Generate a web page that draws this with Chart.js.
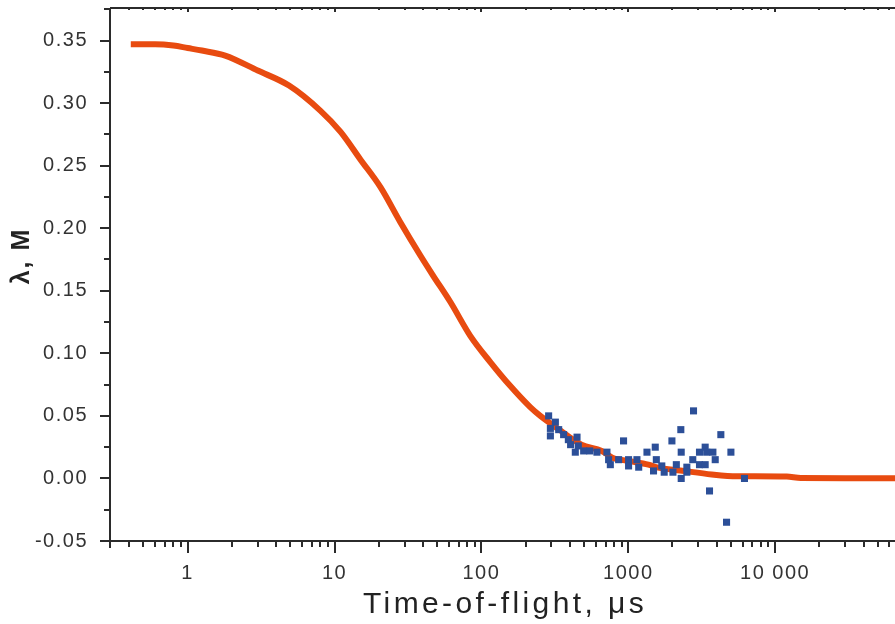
<!DOCTYPE html>
<html><head><meta charset="utf-8">
<script src="https://cdn.jsdelivr.net/npm/chart.js@4/dist/chart.umd.min.js"></script>
<style>html,body{margin:0;padding:0;background:#fff;}canvas{display:block}</style>
</head><body>
<canvas id="c" width="895" height="624"></canvas>
<script>
// Fitted curve (orange)
const fitTime   = [0.41, 0.5, 0.6, 0.8, 1.0, 1.25, 1.8, 3.0, 4.9, 8.0, 11, 15, 20.5, 28, 38.5, 47, 61.5, 84, 115, 157, 215, 252, 330, 480, 660, 780, 1000, 1370, 1600, 2260, 3700, 5500, 7300, 12000, 15000, 30000, 65500];
const fitLambda = [0.347, 0.347, 0.347, 0.346, 0.344, 0.342, 0.338, 0.326, 0.314, 0.294, 0.277, 0.255, 0.233, 0.205, 0.178, 0.162, 0.141, 0.114, 0.093, 0.074, 0.057, 0.050, 0.040, 0.027, 0.022, 0.0166, 0.014, 0.011, 0.0086, 0.0064, 0.0032, 0.0018, 0.0018, 0.0015, 0.0003, 0.0002, 0.0002];
// Experimental points (blue)
const expTime   = [287, 319, 295, 336, 295, 363, 391, 448, 405, 457, 436, 497, 547, 612, 716, 735, 929, 755, 860, 1005, 1146, 1005, 1178, 1341, 1527, 1553, 1486, 1692, 1757, 1983, 2015, 2125, 2280, 2782, 4270, 2294, 3340, 3055, 3420, 3770, 5000, 3910, 2750, 3055, 3340, 2506, 2506, 2294, 3575, 6185, 4670];
const expLambda = [0.050, 0.045, 0.040, 0.039, 0.034, 0.035, 0.031, 0.033, 0.027, 0.026, 0.021, 0.022, 0.022, 0.021, 0.021, 0.015, 0.030, 0.011, 0.015, 0.015, 0.015, 0.010, 0.009, 0.021, 0.025, 0.015, 0.006, 0.010, 0.005, 0.030, 0.005, 0.011, 0.039, 0.054, 0.035, 0.021, 0.025, 0.021, 0.021, 0.021, 0.021, 0.015, 0.015, 0.011, 0.011, 0.009, 0.005, 0.000, -0.010, 0.000, -0.035];
// Axis ticks
const yTickValues = [-0.05, 0.00, 0.05, 0.10, 0.15, 0.20, 0.25, 0.30, 0.35];
const xMajorTicks = [1, 10, 100, 1000, 10000];
const xMajorLabels = ['1', '10', '100', '1000', '10 000'];
const xMin = 0.296, xMax = 65500, yMin = -0.05, yMax = 0.376;

const FONT = "'Liberation Sans', Arial, sans-serif";
const xTickValues = [];
for (let k = -1; k <= 4; k++) {
  for (let m = 1; m <= 9; m++) {
    const v = Number((m * Math.pow(10, k)).toPrecision(6));
    if (v >= xMin && v <= xMax) xTickValues.push(v);
  }
}
const isMajor = v => xMajorTicks.some(t => Math.abs(v - t) / t < 1e-6);

const axesPlugin = {
  id: 'axesPlugin',
  beforeDraw(chart) {
    chart.ctx.letterSpacing = '1.5px';
  },
  afterDatasetsDraw(chart) {
    const ctx = chart.ctx, a = chart.chartArea, xs = chart.scales.x, ys = chart.scales.y;
    ctx.save();
    ctx.strokeStyle = '#2b2b2b';
    ctx.lineWidth = 2;
    ctx.beginPath();
    ctx.moveTo(a.left, a.top); ctx.lineTo(a.left, a.bottom + 7);
    ctx.moveTo(a.left - 10, a.bottom); ctx.lineTo(a.right, a.bottom);
    ctx.moveTo(a.left, a.top); ctx.lineTo(a.right, a.top);
    ctx.stroke();
    ctx.beginPath();
    yTickValues.forEach(v => {
      const y = Math.round(ys.getPixelForValue(v));
      ctx.moveTo(a.left - 10, y); ctx.lineTo(a.left, y);
    });
    for (let i = 0; i < yTickValues.length; i++) {
      const v = yTickValues[i] + 0.025;
      if (v < yMax) {
        const y = Math.round(ys.getPixelForValue(v));
        ctx.moveTo(a.left - 6, y); ctx.lineTo(a.left, y);
      }
    }
    xTickValues.forEach(v => {
      const x = Math.round(xs.getPixelForValue(v));
      if (x <= a.left + 1) return;
      const len = isMajor(v) ? 12 : 6;
      ctx.moveTo(x, a.bottom); ctx.lineTo(x, a.bottom + len);
      ctx.moveTo(x, a.top); ctx.lineTo(x, a.top + (isMajor(v) ? 4 : 2));
    });
    ctx.stroke();
    ctx.restore();

    ctx.save();
    ctx.fillStyle = '#222';
    ctx.letterSpacing = '3.4px';
    ctx.font = "30px " + FONT;
    ctx.textAlign = 'center';
    ctx.textBaseline = 'alphabetic';
    ctx.fillText('Time-of-flight, \u03BCs', 505, 613);
    ctx.restore();

    ctx.save();
    ctx.fillStyle = '#222';
    ctx.letterSpacing = '2px';
    ctx.font = "bold 25px " + FONT;
    ctx.translate(29, 256);
    ctx.rotate(-Math.PI / 2);
    ctx.textAlign = 'center';
    ctx.textBaseline = 'alphabetic';
    ctx.fillText('\u03BB, M', 0, 0);
    ctx.restore();
  }
};

new Chart(document.getElementById('c'), {
  type: 'scatter',
  data: {
    datasets: [
      {
        label: 'experiment',
        data: expTime.map((t, i) => ({x: t, y: expLambda[i]})),
        backgroundColor: '#2c4f98',
        borderWidth: 0,
        pointStyle: 'rect',
        pointRadius: 5,
        order: 0
      },
      {
        label: 'fit',
        data: fitTime.map((t, i) => ({x: t, y: fitLambda[i]})),
        showLine: true,
        borderColor: '#e84b10',
        borderWidth: 6,
        pointRadius: 0,
        cubicInterpolationMode: 'monotone',
        borderCapStyle: 'butt',
        order: 1
      }
    ]
  },
  options: {
    responsive: false,
    animation: false,
    layout: {autoPadding: false, padding: {top: 8, right: 0, left: 0, bottom: 0}},
    plugins: {legend: {display: false}, tooltip: {enabled: false}},
    scales: {
      x: {
        type: 'logarithmic',
        min: xMin, max: xMax,
        afterBuildTicks: s => { s.ticks = xTickValues.map(v => ({value: v})); },
        afterFit: s => { s.height = 83; s.paddingLeft = 0; s.paddingRight = 0; },
        grid: {display: false},
        border: {display: false},
        ticks: {
          autoSkip: false, maxRotation: 0, minRotation: 0, padding: 12,
          color: '#333', font: {family: FONT, size: 20},
          callback: (v) => { const i = xMajorTicks.findIndex(t => Math.abs(v - t) / t < 1e-6); return i >= 0 ? xMajorLabels[i] : ''; }
        }
      },
      y: {
        min: yMin, max: yMax,
        afterBuildTicks: s => { s.ticks = yTickValues.map(v => ({value: v})); },
        afterFit: s => { s.width = 110; s.paddingTop = 0; s.paddingBottom = 0; },
        grid: {display: false},
        border: {display: false},
        ticks: {
          padding: 14, color: '#333', font: {family: FONT, size: 20},
          callback: v => v.toFixed(2)
        }
      }
    }
  },
  plugins: [axesPlugin]
});
</script>
</body></html>
